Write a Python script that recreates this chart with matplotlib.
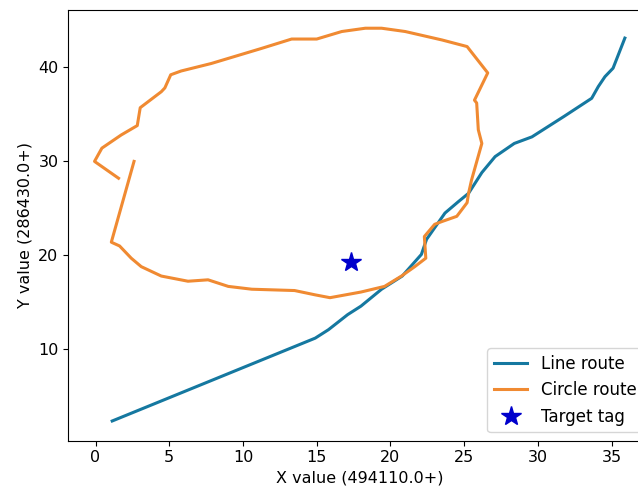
import numpy as np
import matplotlib.pyplot as plt

# line route (blue)
line_x = [1.13, 14.9, 15.8, 17.1, 18.0, 19.4, 20.8, 22.1, 22.45, 23.7, 24.6, 25.3,
          26.2, 27.1, 28.4, 29.6, 31.8, 33.65, 34.1, 34.55, 35.1, 35.9]
line_y = [2.39, 11.2, 12.1, 13.7, 14.6, 16.4, 17.8, 20.1, 21.7, 24.5, 25.7, 26.6,
          28.8, 30.5, 31.9, 32.6, 34.8, 36.7, 37.95, 39.0, 39.9, 43.1]

# circle route (orange)
circle_x = [2.61, 1.07, 1.63, 2.42, 3.1, 4.46, 6.27, 7.63, 9.0, 10.6, 13.5, 14.9,
            15.9, 18.0, 19.6, 20.75, 21.65, 22.4, 22.3, 23.0, 23.5, 24.5, 25.2,
            25.3, 25.5, 26.2, 25.96, 25.85, 25.7, 26.6, 25.2, 23.5, 21.0, 19.4,
            18.3, 16.7, 15.0, 13.3, 11.25, 7.85, 5.8, 5.1, 4.7, 4.46, 3.03, 2.83,
            1.74, 0.43, -0.07, 1.56]
circle_y = [29.99, 21.4, 21.0, 19.7, 18.8, 17.8, 17.25, 17.4, 16.7, 16.4, 16.26,
            15.8, 15.5, 16.1, 16.7, 17.8, 18.8, 19.7, 22.0, 23.3, 23.6, 24.15,
            25.6, 26.6, 28.0, 31.9, 33.35, 36.2, 36.5, 39.4, 42.2, 42.9, 43.8,
            44.15, 44.15, 43.8, 43.0, 43.0, 42.0, 40.4, 39.6, 39.2, 37.8, 37.4,
            35.7, 33.8, 32.8, 31.4, 29.99, 28.2]

target_x = [17.3]
target_y = [19.3]

plt.rcParams['font.size'] = 11.5

fig = plt.figure(figsize=(6.38, 4.94), dpi=100)
# axes runs past the right edge, like the cropped original
ax = fig.add_axes([0.107, 0.108, 0.914, 0.872])

ax.plot(line_x, line_y, color='#1578a0', lw=2.2, label='Line route')
ax.plot(circle_x, circle_y, color='#f08a32', lw=2.2, label='Circle route')
ax.plot(target_x, target_y, '*', color='#0000cc', markersize=15, ls='none', label='Target tag')

ax.set_xlim(-1.85, 37.7)
ax.set_ylim(0.3, 46.1)
ax.set_xticks([0, 5, 10, 15, 20, 25, 30, 35])
ax.set_yticks([10, 20, 30, 40])
ax.set_xlabel('X value (494110.0+)')
ax.set_ylabel('Y value (286430.0+)')
ax.legend(loc='lower right', fontsize=12)

plt.savefig('out.png', dpi=100)
